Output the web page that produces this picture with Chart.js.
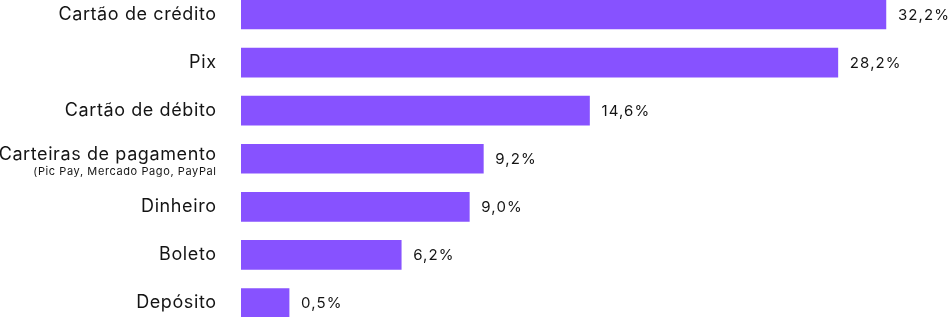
<!DOCTYPE html>
<html>
<head>
<meta charset="utf-8">
<script src="https://cdn.jsdelivr.net/npm/chart.js@4"></script>
<style>
  html, body { margin: 0; padding: 0; background: #fff; overflow: hidden; }
  #wrap { position: relative; width: 950px; height: 317px; overflow: hidden; }
  #chart { position: absolute; left: 0; top: -10px; }
</style>
</head>
<body>
<div id="wrap"><canvas id="chart" width="950" height="337"></canvas></div>
<script>
const categories = ["Cartão de crédito", "Pix", "Cartão de débito", "Carteiras de pagamento", "Dinheiro", "Boleto", "Depósito"];
const subLabels = ["", "", "", "(Pic Pay, Mercado Pago, PayPal", "", "", ""];
const shares = ["32,2%", "28,2%", "14,6%", "9,2%", "9,0%", "6,2%", "0,5%"];
// the bars in the design are not drawn to scale, so their lengths are read off the picture
const barLength = [32.2, 29.8, 17.4, 12.1, 11.4, 8.0, 2.4];

const textColor = '#141414';
const fontFamily = 'Inter, sans-serif';

const labelsPlugin = {
    id: 'labels',
    afterDatasetsDraw(chart) {
        const ctx = chart.ctx;
        const yScale = chart.scales.y;
        const meta = chart.getDatasetMeta(0);
        ctx.save();
        ctx.fillStyle = textColor;
        ctx.textBaseline = 'middle';
        categories.forEach((cat, i) => {
            const y = yScale.getPixelForValue(i);
            ctx.textAlign = 'right';
            ctx.font = '18px ' + fontFamily;
            ctx.letterSpacing = '0.6px';
            if (subLabels[i]) {
                ctx.fillText(cat, 216.6, y - 4);
                ctx.font = '11px ' + fontFamily;
                ctx.letterSpacing = '0.6px';
                ctx.fillText(subLabels[i], 216.6, y + 13);
            } else {
                ctx.fillText(cat, 216.6, y);
            }
            const bar = meta.data[i];
            ctx.textAlign = 'left';
            ctx.font = '15px ' + fontFamily;
            ctx.letterSpacing = '1.1px';
            ctx.fillText(shares[i], bar.x + 12, y + 1);
        });
        ctx.restore();
    }
};

new Chart(document.getElementById('chart'), {
    type: 'bar',
    data: {
        labels: categories,
        datasets: [{
            data: barLength,
            backgroundColor: '#8752ff',
            borderWidth: 0,
            barThickness: 29
        }]
    },
    options: {
        indexAxis: 'y',
        responsive: false,
        animation: false,
        layout: { padding: { left: 241, top: 0.5, right: 0, bottom: 0 } },
        plugins: { legend: { display: false }, tooltip: { enabled: false } },
        scales: {
            x: { min: 0, max: 35.4, display: false },
            y: { display: false, offset: true }
        }
    },
    plugins: [labelsPlugin]
});
</script>
</body>
</html>
